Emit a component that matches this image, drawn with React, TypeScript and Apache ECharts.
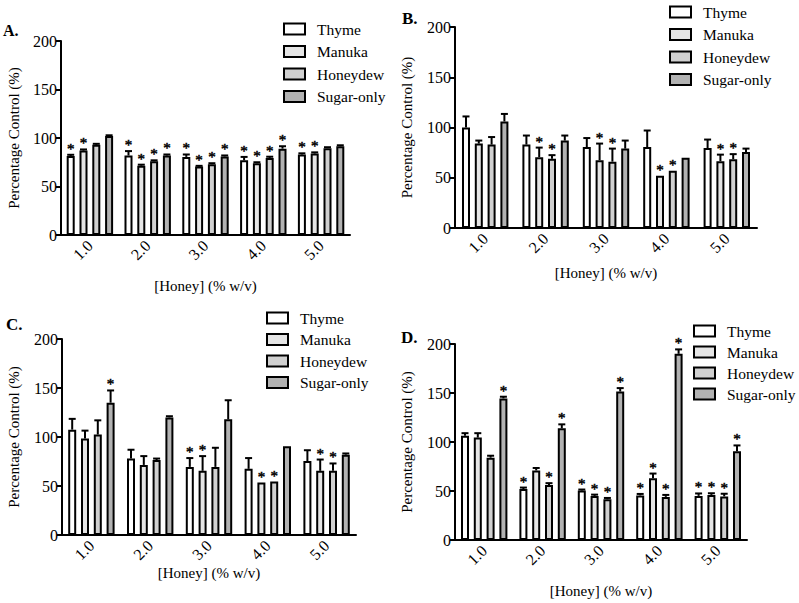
import React, { useEffect, useRef } from "react";
import * as echarts from "echarts";

const categories = ["1.0", "2.0", "3.0", "4.0", "5.0"];
const seriesNames = ["Thyme", "Manuka", "Honeydew", "Sugar-only"];
const yTicks = [0, 50, 100, 150, 200];

// Panel A (rows: Thyme, Manuka, Honeydew, Sugar-only)
const aMeans = [
  [81.5, 82, 80.5, 77, 83],
  [87, 71.5, 70.5, 74, 84],
  [93, 76, 73, 79.5, 89.5],
  [102, 82, 81, 89, 91.5],
];
const aErrors = [
  [1.2, 4.5, 2.5, 3.5, 1.2],
  [1.2, 1, 0.8, 1, 1.2],
  [1, 1, 1, 1.2, 1],
  [0.8, 1, 1, 2.5, 1],
];
const aStars = [
  [1, 1, 1, 1, 1],
  [1, 1, 1, 1, 1],
  [0, 1, 1, 1, 0],
  [0, 1, 1, 1, 0],
];

// Panel B
const bMeans = [
  [100, 83, 80.5, 80.5, 79.5],
  [84, 70.5, 67.5, 52, 66.5],
  [83, 69, 66, 57, 68.5],
  [106, 87, 79, 70, 75.5],
];
const bErrors = [
  [11, 9, 9, 16.5, 8.5],
  [3, 9.5, 16.5, 0, 6.5],
  [7.5, 3.5, 13, 0, 5],
  [7.5, 5, 8, 0, 3.5],
];
const bStars = [
  [0, 0, 0, 0, 0],
  [0, 1, 1, 1, 1],
  [0, 1, 1, 1, 1],
  [0, 0, 0, 0, 0],
];

// Panel C
const cMeans = [
  [107.5, 78, 69.5, 67.5, 75.5],
  [98.5, 71.5, 65.5, 53.5, 65.5],
  [102.5, 76.5, 69.5, 54.5, 65.5],
  [135, 120, 118, 90.5, 82],
];
const cErrors = [
  [11, 9, 9, 11, 11],
  [8, 9, 15, 0, 11.5],
  [14.5, 1.5, 19.5, 0, 7.5],
  [12.5, 1.2, 19.5, 0, 1.2],
];
const cStars = [
  [0, 0, 1, 0, 0],
  [0, 0, 1, 1, 1],
  [0, 0, 0, 1, 1],
  [1, 0, 0, 0, 0],
];

// Panel D
const dMeans = [
  [106.5, 52, 50.5, 45.5, 45],
  [104.5, 71, 45, 63, 46],
  [84, 56, 41.5, 44, 44.5],
  [144.5, 114, 151.5, 190, 90.5],
];
const dErrors = [
  [2.5, 1.5, 1, 1.5, 2.5],
  [4.5, 2.5, 1.3, 4.8, 1.7],
  [2, 2, 1.4, 2, 2.7],
  [1.7, 4, 3.5, 4.5, 6],
];
const dStars = [
  [0, 1, 1, 1, 1],
  [0, 0, 1, 1, 1],
  [0, 1, 1, 1, 1],
  [1, 1, 1, 1, 1],
];

const panelLabels = ["A.", "B.", "C.", "D."];
const xAxisTitle = "[Honey] (% w/v)";
const yAxisTitle = "Percentage Control (%)";

// ---- styling / layout ----
const FONT = "Liberation Serif";
const COLORS = ["#ffffff", "#e5e5e5", "#d0d0d0", "#b2b2b2"];
const BAR_W = 8;
const BAR_GAP = 0.6;

const panels = [
  {
    means: aMeans, errors: aErrors, stars: aStars,
    grid: { left: 61, top: 41, width: 289, height: 194 },
    xNameGap: 43, yNameGap: 40,
    legend: { left: 283, top: 21, itemGap: 6.5 },
    label: { x: 3, y: 22, size: 16 },
  },
  {
    means: bMeans, errors: bErrors, stars: bStars,
    grid: { left: 455, top: 27, width: 302, height: 201 },
    xNameGap: 37, yNameGap: 41,
    legend: { left: 669, top: 4, itemGap: 6.5 },
    label: { x: 402, y: 10, size: 17 },
  },
  {
    means: cMeans, errors: cErrors, stars: cStars,
    grid: { left: 62, top: 339, width: 294, height: 196 },
    xNameGap: 30, yNameGap: 41,
    legend: { left: 266, top: 310, itemGap: 5.5 },
    label: { x: 6, y: 316, size: 17 },
  },
  {
    means: dMeans, errors: dErrors, stars: dStars,
    grid: { left: 455, top: 344, width: 292, height: 196 },
    xNameGap: 43, yNameGap: 41,
    legend: { left: 693, top: 323, itemGap: 5 },
    label: { x: 401, y: 329, size: 17 },
  },
];

function buildOption() {
  const grid: any[] = [];
  const xAxis: any[] = [];
  const yAxis: any[] = [];
  const legend: any[] = [];
  const series: any[] = [];
  const graphic: any[] = [];

  panels.forEach((p, pi) => {
    grid.push({ ...p.grid, containLabel: false });
    xAxis.push({
      type: "category",
      gridIndex: pi,
      data: categories,
      name: xAxisTitle,
      nameLocation: "middle",
      nameGap: p.xNameGap,
      nameTextStyle: { fontFamily: FONT, fontSize: 15, color: "#000" },
      axisLine: { lineStyle: { color: "#000", width: 2 } },
      axisTick: { alignWithLabel: true, length: 5, lineStyle: { color: "#000", width: 2 } },
      axisLabel: { rotate: 45, fontFamily: FONT, fontSize: 16, color: "#000", margin: 8 },
      splitLine: { show: false },
    });
    yAxis.push({
      type: "value",
      gridIndex: pi,
      min: 0,
      max: 200,
      interval: 50,
      name: yAxisTitle,
      nameLocation: "middle",
      nameGap: p.yNameGap,
      nameRotate: 90,
      nameTextStyle: { fontFamily: FONT, fontSize: 15, color: "#000" },
      axisLine: { show: true, lineStyle: { color: "#000", width: 2 } },
      axisTick: { show: true, length: 5, lineStyle: { color: "#000", width: 2 } },
      axisLabel: {
        fontFamily: FONT, fontSize: 16, color: "#000", margin: 4,
        formatter: (v: number) => (yTicks.includes(v) ? String(v) : ""),
      },
      splitLine: { show: false },
    });
    legend.push({
      data: seriesNames,
      orient: "vertical",
      left: p.legend.left,
      top: p.legend.top,
      padding: 0,
      itemWidth: 21,
      itemHeight: 11,
      itemGap: p.legend.itemGap,
      selectedMode: false,
      icon: "rect",
      itemStyle: { borderColor: "#000", borderWidth: 2 },
      textStyle: { fontFamily: FONT, fontSize: 15.5, color: "#000", lineHeight: 16, padding: [0, 0, 0, 7] },
    });
    graphic.push({
      type: "text",
      left: p.label.x,
      top: p.label.y,
      style: { text: panelLabels[pi], fontFamily: FONT, fontSize: p.label.size, fontWeight: "bold", fill: "#000" },
    });

    seriesNames.forEach((name, si) => {
      series.push({
        type: "bar",
        name,
        xAxisIndex: pi,
        yAxisIndex: pi,
        data: p.means[si],
        barWidth: BAR_W,
        barGap: `${BAR_GAP * 100}%`,
        itemStyle: { color: COLORS[si], borderColor: "#000", borderWidth: 2 },
        emphasis: { disabled: true },
        z: 2,
      });
    });

    seriesNames.forEach((name, si) => {
      const data = categories.map((_, ci) => [ci, p.means[si][ci], p.errors[si][ci], p.stars[si][ci]]);
      series.push({
        type: "custom",
        name: name + " error",
        xAxisIndex: pi,
        yAxisIndex: pi,
        data,
        z: 3,
        silent: true,
        itemStyle: { color: "#000" },
        renderItem: (params: any, api: any) => {
          const ci = api.value(0);
          const mean = api.value(1);
          const err = api.value(2);
          const star = api.value(3);
          const base = api.coord([ci, mean]);
          const top = api.coord([ci, mean + err]);
          const total = 4 * BAR_W + 3 * BAR_W * BAR_GAP;
          const cx = base[0] - total / 2 + si * BAR_W * (1 + BAR_GAP) + BAR_W / 2;
          const children: any[] = [];
          if (err > 0) {
            children.push({
              type: "line",
              shape: { x1: cx, y1: base[1], x2: cx, y2: top[1] },
              style: { stroke: "#000", lineWidth: 2 },
            });
            children.push({
              type: "line",
              shape: { x1: cx - 3.5, y1: top[1], x2: cx + 3.5, y2: top[1] },
              style: { stroke: "#000", lineWidth: 2 },
            });
          }
          if (star) {
            children.push({
              type: "text",
              x: cx,
              y: top[1] - 6,
              style: {
                legacy: false,
                text: "*",
                align: "center",
                verticalAlign: "middle",
                fontFamily: FONT,
                fontSize: 15,
                fill: "#000",
                stroke: "#000",
                lineWidth: 0.5,
              },
            });
          }
          return { type: "group", children };
        },
      });
    });
  });

  return {
    animation: false,
    backgroundColor: "#ffffff",
    grid,
    xAxis,
    yAxis,
    legend,
    series,
    graphic,
  };
}

export default function App() {
  const ref = useRef<HTMLDivElement>(null);
  useEffect(() => {
    if (!ref.current) return;
    const chart = echarts.init(ref.current, undefined, { renderer: "svg" });
    chart.setOption(buildOption() as any);
    return () => chart.dispose();
  }, []);
  return (
    <div
      ref={ref}
      style={{ position: "fixed", left: 0, top: 0, width: 799, height: 603, background: "#fff" }}
    />
  );
}
